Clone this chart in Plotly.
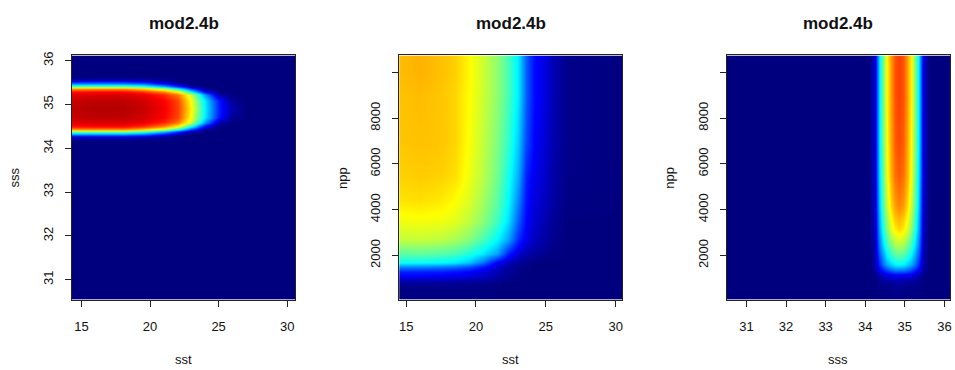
import plotly.graph_objects as go

W, H = 955, 370

# ---------------- data ----------------
title_text = "mod2.4b"

# Panel 1: sst (x) vs sss (y)
sst1 = [14.3, 16, 18, 19.5, 21, 22, 23, 24, 25, 26, 27, 30.6]
sss1 = [30.54, 34.1, 34.18, 34.26, 34.32, 34.38, 34.44, 34.5, 34.58, 34.7, 34.9,
        35.1, 35.22, 35.3, 35.36, 35.42, 35.48, 35.54, 35.62, 35.7, 36.12]
z1 = [
    [0, 0, 0, 0, 0, 0, 0, 0, 0, 0, 0, 0],
    [0, 0, 0, 0, 0, 0, 0, 0, 0, 0, 0, 0],
    [0, 0, 0, 0, 0, 0, 0, 0, 0, 0, 0, 0],
    [0.07, 0.08, 0.08, 0.06, 0.03, 0, 0, 0, 0, 0, 0, 0],
    [0.24, 0.24, 0.24, 0.21, 0.11, 0.04, 0, 0, 0, 0, 0, 0],
    [0.47, 0.47, 0.47, 0.42, 0.30, 0.16, 0.04, 0, 0, 0, 0, 0],
    [0.70, 0.71, 0.71, 0.65, 0.53, 0.37, 0.17, 0.02, 0, 0, 0, 0],
    [0.84, 0.85, 0.85, 0.81, 0.72, 0.60, 0.36, 0.10, 0, 0, 0, 0],
    [0.89, 0.90, 0.90, 0.88, 0.82, 0.74, 0.56, 0.26, 0.04, 0, 0, 0],
    [0.92, 0.93, 0.93, 0.91, 0.86, 0.79, 0.60, 0.34, 0.13, 0.02, 0, 0],
    [0.93, 0.94, 0.94, 0.92, 0.87, 0.80, 0.62, 0.35, 0.14, 0.04, 0, 0],
    [0.92, 0.93, 0.93, 0.91, 0.86, 0.79, 0.60, 0.34, 0.13, 0.02, 0, 0],
    [0.89, 0.90, 0.90, 0.88, 0.82, 0.74, 0.56, 0.26, 0.04, 0, 0, 0],
    [0.84, 0.85, 0.85, 0.81, 0.72, 0.60, 0.36, 0.10, 0, 0, 0, 0],
    [0.70, 0.71, 0.71, 0.65, 0.53, 0.37, 0.17, 0.02, 0, 0, 0, 0],
    [0.47, 0.47, 0.47, 0.42, 0.30, 0.16, 0.04, 0, 0, 0, 0, 0],
    [0.24, 0.24, 0.24, 0.21, 0.11, 0.04, 0, 0, 0, 0, 0, 0],
    [0.07, 0.08, 0.08, 0.06, 0.03, 0, 0, 0, 0, 0, 0, 0],
    [0, 0, 0, 0, 0, 0, 0, 0, 0, 0, 0, 0],
    [0, 0, 0, 0, 0, 0, 0, 0, 0, 0, 0, 0],
    [0, 0, 0, 0, 0, 0, 0, 0, 0, 0, 0, 0],
]

# Panel 2: sst (x) vs npp (y)
sst2 = [14.5, 16, 17.5, 18.5, 19.5, 20.5, 21.5, 22.3, 23.0, 23.6, 24.2, 24.8, 25.5, 26.5, 30.47]
npp2 = [57, 700, 900, 1100, 1300, 1500, 1700, 2100, 2700, 3500, 4400, 5500, 7000, 9000, 10000, 10750]
z2 = [
    [0, 0, 0, 0, 0, 0, 0, 0, 0, 0, 0, 0, 0, 0, 0],
    [0.01, 0.01, 0.01, 0.01, 0.01, 0.005, 0, 0, 0, 0, 0, 0, 0, 0, 0],
    [0.04, 0.04, 0.04, 0.035, 0.03, 0.025, 0.015, 0.005, 0, 0, 0, 0, 0, 0, 0],
    [0.10, 0.10, 0.095, 0.09, 0.08, 0.06, 0.035, 0.015, 0.005, 0, 0, 0, 0, 0, 0],
    [0.14, 0.14, 0.135, 0.125, 0.11, 0.08, 0.045, 0.02, 0.01, 0, 0, 0, 0, 0, 0],
    [0.25, 0.245, 0.235, 0.22, 0.19, 0.13, 0.07, 0.03, 0.015, 0.005, 0, 0, 0, 0, 0],
    [0.37, 0.365, 0.355, 0.34, 0.30, 0.22, 0.10, 0.05, 0.025, 0.01, 0, 0, 0, 0, 0],
    [0.45, 0.455, 0.445, 0.43, 0.39, 0.34, 0.27, 0.14, 0.07, 0.04, 0.025, 0.015, 0.005, 0, 0],
    [0.55, 0.555, 0.545, 0.525, 0.49, 0.43, 0.355, 0.27, 0.15, 0.09, 0.055, 0.035, 0.015, 0, 0],
    [0.595, 0.60, 0.595, 0.58, 0.545, 0.495, 0.42, 0.33, 0.20, 0.11, 0.07, 0.045, 0.02, 0, 0],
    [0.635, 0.64, 0.63, 0.61, 0.575, 0.52, 0.45, 0.36, 0.24, 0.125, 0.08, 0.06, 0.03, 0.005, 0],
    [0.655, 0.66, 0.655, 0.64, 0.595, 0.54, 0.47, 0.38, 0.28, 0.14, 0.095, 0.07, 0.035, 0.008, 0],
    [0.665, 0.67, 0.665, 0.65, 0.605, 0.55, 0.485, 0.41, 0.31, 0.18, 0.11, 0.08, 0.04, 0.01, 0],
    [0.67, 0.675, 0.665, 0.65, 0.61, 0.56, 0.50, 0.43, 0.34, 0.20, 0.12, 0.09, 0.045, 0.01, 0],
    [0.675, 0.685, 0.67, 0.655, 0.615, 0.56, 0.50, 0.43, 0.34, 0.20, 0.12, 0.09, 0.045, 0.01, 0],
    [0.675, 0.685, 0.67, 0.655, 0.615, 0.56, 0.50, 0.43, 0.34, 0.20, 0.12, 0.09, 0.045, 0.01, 0],
]

# Panel 3: sss (x) vs npp (y)
sss3 = [30.51, 33.9, 34.1, 34.25, 34.35, 34.45, 34.55, 34.65, 34.75, 34.85, 34.95,
        35.05, 35.15, 35.25, 35.35, 35.45, 35.6, 36.14]
npp3 = [57, 700, 950, 1150, 1350, 1600, 2000, 2500, 3200, 4200, 5500, 7000, 9000, 10750]
z3 = [
    [0, 0, 0, 0, 0, 0, 0, 0, 0, 0, 0, 0, 0, 0, 0, 0, 0, 0],
    [0, 0, 0, 0, 0.01, 0.01, 0.01, 0.01, 0.02, 0.02, 0.02, 0.01, 0.01, 0.01, 0.01, 0, 0, 0],
    [0, 0, 0, 0, 0.02, 0.03, 0.04, 0.04, 0.05, 0.05, 0.05, 0.04, 0.04, 0.03, 0.02, 0, 0, 0],
    [0, 0, 0, 0.01, 0.04, 0.07, 0.09, 0.10, 0.11, 0.11, 0.11, 0.10, 0.09, 0.07, 0.04, 0.01, 0, 0],
    [0, 0, 0, 0.02, 0.09, 0.13, 0.17, 0.20, 0.22, 0.22, 0.22, 0.20, 0.17, 0.13, 0.09, 0.02, 0, 0],
    [0, 0, 0, 0.04, 0.14, 0.22, 0.28, 0.32, 0.35, 0.36, 0.35, 0.32, 0.28, 0.22, 0.14, 0.04, 0, 0],
    [0, 0, 0, 0.04, 0.18, 0.27, 0.35, 0.40, 0.44, 0.45, 0.44, 0.40, 0.35, 0.27, 0.18, 0.04, 0, 0],
    [0, 0, 0, 0.05, 0.22, 0.33, 0.42, 0.48, 0.53, 0.54, 0.53, 0.48, 0.42, 0.33, 0.22, 0.05, 0, 0],
    [0, 0, 0, 0.06, 0.26, 0.39, 0.50, 0.58, 0.63, 0.65, 0.63, 0.58, 0.50, 0.39, 0.26, 0.06, 0, 0],
    [0, 0, 0, 0.07, 0.29, 0.44, 0.56, 0.65, 0.71, 0.73, 0.71, 0.65, 0.56, 0.44, 0.29, 0.07, 0, 0],
    [0, 0, 0, 0.08, 0.31, 0.46, 0.60, 0.69, 0.75, 0.77, 0.75, 0.69, 0.60, 0.46, 0.31, 0.08, 0, 0],
    [0, 0, 0, 0.08, 0.32, 0.48, 0.61, 0.70, 0.77, 0.79, 0.77, 0.70, 0.61, 0.48, 0.32, 0.08, 0, 0],
    [0, 0, 0, 0.08, 0.32, 0.48, 0.62, 0.71, 0.78, 0.80, 0.78, 0.71, 0.62, 0.48, 0.32, 0.08, 0, 0],
    [0, 0, 0, 0.08, 0.32, 0.48, 0.62, 0.71, 0.78, 0.80, 0.78, 0.71, 0.62, 0.48, 0.32, 0.08, 0, 0],
]

sst_ticks = [15, 20, 25, 30]
sss_ticks = [31, 32, 33, 34, 35, 36]
npp_ticks = [2000, 4000, 6000, 8000, 10000]
npp_ticktext = ["2000", "4000", "6000", "8000", ""]

# ---------------- style ----------------
jet = [[0.0, "#00007F"], [0.11, "#0000FF"], [0.36, "#00FFFF"],
       [0.61, "#FFFF00"], [0.86, "#FF0000"], [1.0, "#7F0000"]]
FONT = "Liberation Sans, Arial, sans-serif"

# panel pixel boxes (left, right), common top/bottom
boxes = [(72, 296), (400, 623.5), (728.5, 952)]
top_px, bot_px = 52, 299

def px_x(p):
    return p / W

def px_y(p):
    return 1 - p / H

fig = go.Figure()

panels = [
    (sst1, sss1, z1, [14.29, 30.6], [30.54, 36.12], sst_ticks, [str(v) for v in sst_ticks],
     sss_ticks, [str(v) for v in sss_ticks], "sst", "sss"),
    (sst2, npp2, z2, [14.5, 30.47], [57, 10750], sst_ticks, [str(v) for v in sst_ticks],
     npp_ticks, npp_ticktext, "sst", "npp"),
    (sss3, npp3, z3, [30.51, 36.14], [57, 10750], sss_ticks, [str(v) for v in sss_ticks],
     npp_ticks, npp_ticktext, "sss", "npp"),
]

annotations = []
for i, (xv, yv, zv, xr, yr, xt, xtt, yt, ytt, xlab, ylab) in enumerate(panels):
    n = "" if i == 0 else str(i + 1)
    fig.add_trace(go.Heatmap(x=xv, y=yv, z=zv, colorscale=jet, zmin=0, zmax=1,
                             zsmooth="best", showscale=False,
                             xaxis="x" + n, yaxis="y" + n, hoverinfo="skip"))
    l, r = boxes[i]
    axis_common = dict(showgrid=False, zeroline=False, showline=True, mirror=True,
                       linecolor="#222", linewidth=1, ticks="outside", ticklen=6,
                       tickcolor="#222", tickwidth=1,
                       tickfont=dict(family=FONT, size=13, color="#111"))
    fig.update_layout(**{
        "xaxis" + n: dict(domain=[px_x(l), px_x(r)], range=xr, anchor="y" + n,
                          tickvals=xt, ticktext=xtt, ticklabelstandoff=9, **axis_common),
        "yaxis" + n: dict(domain=[px_y(bot_px), px_y(top_px)], range=yr, anchor="x" + n,
                          tickvals=yt, ticktext=ytt, tickangle=-90,
                          ticklabelstandoff=7, **axis_common),
    })
    cx = (l + r) / 2
    annotations.append(dict(text="<b>" + title_text + "</b>", x=px_x(cx), y=px_y(20),
                            xref="paper", yref="paper", showarrow=False,
                            xanchor="center", yanchor="middle",
                            font=dict(family=FONT, size=17, color="#111")))
    annotations.append(dict(text=xlab, x=px_x(cx), y=px_y(359), xref="paper", yref="paper",
                            showarrow=False, xanchor="center", yanchor="middle",
                            font=dict(family=FONT, size=13, color="#111")))
    annotations.append(dict(text=ylab, x=px_x(l - 57), y=px_y((top_px + bot_px) / 2),
                            xref="paper", yref="paper", showarrow=False, textangle=-90,
                            xanchor="center", yanchor="middle",
                            font=dict(family=FONT, size=13, color="#111")))

fig.update_layout(width=W, height=H, margin=dict(l=0, r=0, t=0, b=0),
                  paper_bgcolor="white", plot_bgcolor="white",
                  showlegend=False, annotations=annotations)

fig.write_html("out.html")
